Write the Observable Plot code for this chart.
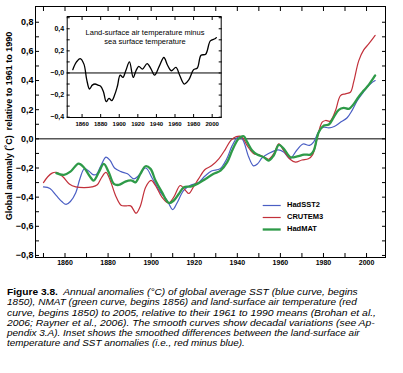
<!DOCTYPE html>
<html><head><meta charset="utf-8">
<script src="https://cdn.jsdelivr.net/npm/d3@7"></script>
<script src="https://cdn.jsdelivr.net/npm/@observablehq/plot@0.6"></script>
<style>
body{margin:0;background:#fff;}
#wrap{position:relative;width:403px;height:373px;overflow:hidden;font-family:"Liberation Sans",Arial,sans-serif;color:#000;}
#main{position:absolute;left:0;top:0;}
#inset{position:absolute;left:40px;top:12px;}
#ytitle{position:absolute;left:-111px;top:121px;width:240px;height:10px;line-height:10px;text-align:center;font-weight:bold;font-size:9px;transform:rotate(-90deg);transform-origin:center;white-space:pre;}
#legend{position:absolute;left:262px;top:200px;font-weight:bold;font-size:7.5px;}
#legend .row{position:absolute;left:0;height:10px;white-space:nowrap;}
#legend svg{position:absolute;left:0;top:0;}
#legend span{position:absolute;left:25px;top:0;line-height:10px;}
#insetTitle{position:absolute;left:70px;top:28px;width:150px;text-align:center;font-size:7.5px;line-height:9.3px;}
#cap{position:absolute;left:7.3px;top:287px;font-size:8.9px;line-height:10.3px;font-style:italic;font-family:"Liberation Sans Narrow","Arial Narrow","Liberation Sans",Arial,sans-serif;}
#cap .ln{white-space:pre;height:10.3px;line-height:10.3px;}
#cap .ln span.inner{display:inline-block;transform-origin:0 50%;line-height:10.3px;}
#cap .fig{font-style:normal;font-weight:bold;}
</style>
</head><body>
<div id="wrap">
  <div id="main"></div>
  <div id="inset"></div>
  <div id="insetTitle">Land-surface air temperature minus<br>sea surface temperature</div>
  <div id="ytitle">Global anomaly (˚C)  relative to 1961 to 1990</div>
  <div id="legend"></div>
  <div id="cap"></div>
</div>
<script>
// ---------- data ----------
const seriesNames = ["HadSST2", "CRUTEM3", "HadMAT"];
const seriesColors = ["#4a5ec4", "#c2303a", "#2e9a48"];

const blueYears = [1850,1853,1856,1858.5,1860.5,1862.5,1865,1867,1869,1871,1873,1874.5,1876.5,1879,1881,1883,1886,1889,1892,1894,1897.5,1900.5,1904,1907.5,1910,1912,1915,1918,1922,1925,1928,1932,1935,1937.5,1940,1941.5,1943,1945.3,1947.5,1949.5,1951.5,1954.5,1959,1961.5,1964.5,1967.5,1970.5,1973.5,1975.5,1978,1980,1982.5,1985,1988,1991,1993.3,1995.6,1998,2000.3,2002,2004];
const blueValues = [-0.33,-0.34,-0.39,-0.43,-0.45,-0.43,-0.37,-0.27,-0.205,-0.22,-0.245,-0.245,-0.19,-0.125,-0.15,-0.2,-0.225,-0.24,-0.275,-0.255,-0.2,-0.27,-0.36,-0.425,-0.485,-0.44,-0.355,-0.32,-0.3,-0.255,-0.22,-0.205,-0.14,-0.05,0.01,0.015,-0.02,-0.125,-0.185,-0.17,-0.13,-0.1,-0.075,-0.09,-0.135,-0.08,-0.035,-0.045,-0.02,0.055,0.08,0.075,0.085,0.115,0.145,0.195,0.26,0.31,0.355,0.38,0.4];

const redYears = [1850,1852,1854,1856,1859,1862,1865,1869,1872.5,1875,1877,1879,1881,1883.5,1886,1888,1890.5,1893,1895,1897.5,1900,1902,1905,1908,1910.5,1913.5,1916,1917.5,1920,1922,1925,1928,1931.5,1934.5,1937,1939.5,1942,1944.5,1947.5,1950,1952.5,1954.5,1957,1959.3,1961.5,1964.5,1967,1970,1973,1975,1977,1979.4,1981,1983,1985.6,1987.9,1990.2,1992.5,1994,1996.4,1998.7,2001,2004];
const redValues = [-0.3,-0.26,-0.235,-0.23,-0.26,-0.31,-0.33,-0.335,-0.33,-0.315,-0.265,-0.23,-0.285,-0.39,-0.455,-0.46,-0.46,-0.51,-0.46,-0.33,-0.285,-0.32,-0.4,-0.44,-0.4,-0.32,-0.355,-0.375,-0.32,-0.275,-0.21,-0.185,-0.135,-0.07,-0.01,0.015,0.015,-0.045,-0.1,-0.11,-0.125,-0.14,-0.1,-0.035,-0.08,-0.14,-0.16,-0.145,-0.137,-0.108,0.0,0.114,0.126,0.121,0.194,0.297,0.309,0.32,0.389,0.537,0.61,0.651,0.71];

const greenYears = [1856,1859.5,1862.5,1866.3,1868.7,1871.8,1873.3,1875.7,1878,1880.3,1882.7,1885,1888,1891,1892.7,1895,1897.4,1899.7,1902,1905,1908.2,1910.5,1912.8,1915.2,1918.3,1921.4,1925.2,1929,1932.2,1935.3,1937.6,1940,1941.5,1943,1944.6,1946.9,1949.2,1952.3,1954.6,1956.9,1959.3,1961.6,1964.7,1967.8,1971,1974,1975.5,1977.8,1980.2,1982.5,1984.8,1987.1,1989.4,1991.8,1994.1,1996.4,1998.7,2001.1,2004];
const greenValues = [-0.235,-0.247,-0.225,-0.17,-0.195,-0.263,-0.286,-0.229,-0.172,-0.229,-0.309,-0.316,-0.293,-0.286,-0.298,-0.24,-0.188,-0.206,-0.286,-0.366,-0.44,-0.423,-0.378,-0.332,-0.327,-0.309,-0.275,-0.24,-0.218,-0.16,-0.08,-0.01,0.012,0.018,-0.023,-0.08,-0.108,-0.126,-0.149,-0.114,-0.041,-0.069,-0.126,-0.121,-0.108,-0.108,-0.08,0.046,0.091,0.098,0.149,0.199,0.212,0.206,0.24,0.29,0.331,0.372,0.435];

const insetYears = [1850,1854,1858,1862,1865,1868,1871,1874,1877,1880,1883,1886,1889,1892,1895,1898,1901,1904,1907,1911,1915,1918,1921,1925,1930,1934,1938,1943,1948,1952,1956,1961,1965,1970,1975,1980,1984,1988,1993,1998,2003,2004.5];
const insetValues = [0.03,0.1,0.13,0.08,-0.06,-0.145,-0.11,-0.1,-0.11,-0.12,-0.17,-0.26,-0.23,-0.25,-0.2,-0.12,-0.02,-0.04,0.02,0.1,-0.04,0.02,0.06,0.035,0.085,0.04,-0.02,0.06,0.14,0.07,0.02,0.05,-0.02,-0.1,-0.06,0.03,0.045,0.16,0.17,0.29,0.31,0.32];

const xLabelYears = [1860,1880,1900,1920,1940,1960,1980,2000];
const xTickYears = [1850,1860,1870,1880,1890,1900,1910,1920,1930,1940,1950,1960,1970,1980,1990,2000];
const yLabelValues = [-0.8,-0.6,-0.4,-0.2,0,0.2,0.4,0.6,0.8];
const yTickValues = [-0.8,-0.7,-0.6,-0.5,-0.4,-0.3,-0.2,-0.1,0,0.1,0.2,0.3,0.4,0.5,0.6,0.7,0.8];
const insetYLabels = [-0.4,-0.2,0,0.2,0.4];
const insetYTicks = [-0.4,-0.3,-0.2,-0.1,0,0.1,0.2,0.3,0.4,0.5];

const captionLines = [
  ["Figure 3.8.", "  Annual anomalies (°C) of global average SST (blue curve, begins"],
  ["", "1850), NMAT (green curve, begins 1856) and land-surface air temperature (red"],
  ["", "curve, begins 1850) to 2005, relative to their 1961 to 1990 means (Brohan et al.,"],
  ["", "2006; Rayner et al., 2006). The smooth curves show decadal variations (see Ap-"],
  ["", "pendix 3.A). Inset shows the smoothed differences between the land-surface air"],
  ["", "temperature and SST anomalies (i.e., red minus blue)."]
];

// ---------- build ----------
const toRows = (ys, vs) => ys.map((y, i) => ({year: y, value: vs[i]}));
const blueRows = toRows(blueYears, blueValues);
const redRows = toRows(redYears, redValues);
const greenRows = toRows(greenYears, greenValues);
const insetRows = toRows(insetYears, insetValues);

const fmt = v => (v < 0 ? "\u2212" : "") + Math.abs(v).toFixed(1).replace(".", ",");
const fmtInset = v => (v <= 0 ? "\u2212" : "") + Math.abs(v).toFixed(1).replace(".", ",");
const blank = () => "";

const main = Plot.plot({
  width: 403, height: 270,
  marginLeft: 35, marginRight: 18, marginTop: 6, marginBottom: 13,
  style: {fontFamily: "Liberation Sans, Arial, sans-serif", background: "white", color: "black", overflow: "visible"},
  x: {domain: [1846.3, 2008.8], label: null},
  y: {domain: [-0.814, 0.908], label: null},
  marks: [
    Plot.ruleY([0], {stroke: "black", strokeWidth: 1}),
    Plot.line(blueRows, {x: "year", y: "value", stroke: seriesColors[0], strokeWidth: 1.2, curve: "catmull-rom"}),
    Plot.line(redRows, {x: "year", y: "value", stroke: seriesColors[1], strokeWidth: 1.2, curve: "catmull-rom"}),
    Plot.line(greenRows, {x: "year", y: "value", stroke: seriesColors[2], strokeWidth: 2.3, curve: "catmull-rom"}),
    Plot.axisX({anchor: "bottom", ticks: xTickYears, tickSize: -4, tickFormat: blank, label: null}),
    Plot.axisX({anchor: "top", ticks: xTickYears, tickSize: -4, tickFormat: blank, label: null}),
    Plot.axisX({anchor: "bottom", ticks: xLabelYears, tickSize: 0, tickPadding: 3, tickFormat: d => String(d), label: null, fontSize: 7, fontWeight: "bold"}),
    Plot.axisY({anchor: "left", ticks: yTickValues, tickSize: -4, tickFormat: blank, label: null}),
    Plot.axisY({anchor: "right", ticks: yTickValues, tickSize: -4, tickFormat: blank, label: null}),
    Plot.axisY({anchor: "left", ticks: yLabelValues, tickSize: 0, tickPadding: 2, tickFormat: fmt, label: null, fontSize: 9, fontWeight: "bold"}),
    Plot.frame({stroke: "black", strokeWidth: 1})
  ]
});
document.getElementById("main").appendChild(main);

const inset = Plot.plot({
  width: 185, height: 120,
  marginLeft: 26.7, marginRight: 4.3, marginTop: 4, marginBottom: 15,
  style: {fontFamily: "Liberation Sans, Arial, sans-serif", background: "white", color: "black", overflow: "visible"},
  x: {domain: [1844, 2009.7], label: null},
  y: {domain: [-0.403, 0.511], label: null},
  marks: [
    Plot.ruleY([0], {stroke: "black", strokeWidth: 1}),
    Plot.line(insetRows, {x: "year", y: "value", stroke: "black", strokeWidth: 1.3, curve: "catmull-rom"}),
    Plot.axisX({anchor: "bottom", ticks: xLabelYears, tickSize: -3, tickFormat: blank, label: null}),
    Plot.axisX({anchor: "top", ticks: xLabelYears, tickSize: -3, tickFormat: blank, label: null}),
    Plot.axisX({anchor: "bottom", ticks: xLabelYears, tickSize: 0, tickPadding: 4, tickFormat: d => String(d), label: null, fontSize: 6, fontWeight: "bold"}),
    Plot.axisY({anchor: "left", ticks: insetYTicks, tickSize: -3, tickFormat: blank, label: null}),
    Plot.axisY({anchor: "right", ticks: insetYTicks, tickSize: -3, tickFormat: blank, label: null}),
    Plot.axisY({anchor: "left", ticks: insetYLabels, tickSize: 0, tickPadding: 3, tickFormat: fmtInset, label: null, fontSize: 7, fontWeight: "bold"}),
    Plot.frame({stroke: "black", strokeWidth: 1})
  ]
});
document.getElementById("inset").appendChild(inset);

// legend
const legend = document.getElementById("legend");
const legendWidths = [1.2, 1.2, 2.3];
seriesNames.forEach((name, i) => {
  const row = document.createElement("div");
  row.className = "row";
  row.style.top = (i * 12) + "px";
  row.innerHTML = `<svg width="20" height="10"><line x1="0.7" x2="18.7" y1="5.5" y2="5.5" stroke="${seriesColors[i]}" stroke-width="${legendWidths[i]}"/></svg><span>${name}</span>`;
  legend.appendChild(row);
});

// caption
const cap = document.getElementById("cap");
const targets = [350.7, 349.7, 369, 367.7, 352.7, 237.7];
captionLines.forEach(([bold, rest], i) => {
  const ln = document.createElement("div");
  ln.className = "ln";
  const inner = document.createElement("span");
  inner.className = "inner";
  if (bold) {
    const b = document.createElement("span");
    b.className = "fig";
    b.textContent = bold;
    inner.appendChild(b);
  }
  inner.appendChild(document.createTextNode(rest));
  ln.appendChild(inner);
  cap.appendChild(ln);
  const w = inner.getBoundingClientRect().width;
  if (w > 0) inner.style.transform = `scaleX(${targets[i] / w})`;
});
</script>
</body></html>
